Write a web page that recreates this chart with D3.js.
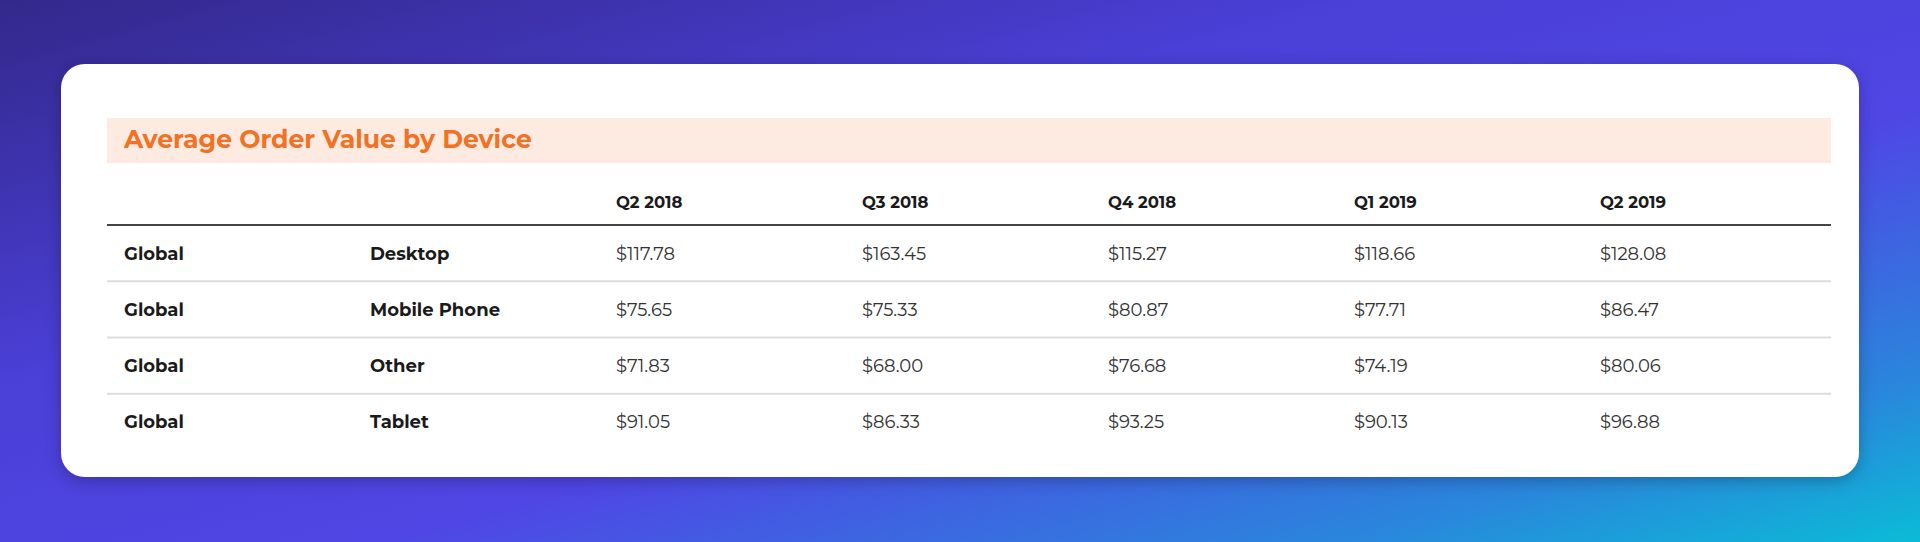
<!DOCTYPE html>
<html><head><meta charset="utf-8">
<script src="https://cdn.jsdelivr.net/npm/d3@7"></script>
<style>html,body{margin:0;padding:0;overflow:hidden;}</style>
</head><body>
<svg id="c" width="1920" height="542"></svg>
<script>
const title = "Average Order Value by Device";
const quarters = ["Q2 2018","Q3 2018","Q4 2018","Q1 2019","Q2 2019"];
const regions = ["Global","Global","Global","Global"];
const devices = ["Desktop","Mobile Phone","Other","Tablet"];
const desktop = [117.78,163.45,115.27,118.66,128.08];
const mobile = [75.65,75.33,80.87,77.71,86.47];
const other = [71.83,68.00,76.68,74.19,80.06];
const tablet = [91.05,86.33,93.25,90.13,96.88];
const values = [desktop, mobile, other, tablet];

const svg = d3.select("#c");
const defs = svg.append("defs");
const g = defs.append("linearGradient").attr("id","bg").attr("x1","0").attr("y1","0").attr("x2","1").attr("y2","1");
[["0%","#33288a"],["35%","#4a3fd6"],["60%","#4f46e5"],["85%","#2a86dc"],["100%","#0bbbd6"]].forEach(s=>g.append("stop").attr("offset",s[0]).attr("stop-color",s[1]));
const f = defs.append("filter").attr("id","sh").attr("x","-5%").attr("y","-10%").attr("width","110%").attr("height","130%");
f.append("feDropShadow").attr("dx",0).attr("dy",4).attr("stdDeviation",8).attr("flood-color","#000").attr("flood-opacity",0.25);
svg.append("rect").attr("width",1920).attr("height",542).attr("fill","url(#bg)");
svg.append("rect").attr("x",61).attr("y",64).attr("width",1798).attr("height",413).attr("rx",24).attr("fill","#fff").attr("filter","url(#sh)");

const L = 107, R = 1831;
const font = "Montserrat, 'Open Sans', Lato, sans-serif";
svg.append("rect").attr("x",L).attr("y",118).attr("width",R-L).attr("height",45).attr("fill","#fdebe1");
const t = svg.append("text").attr("x",124).attr("y",148).attr("fill","#f27124").attr("font-family",font).attr("font-weight",700).attr("font-size",23).text(title);
const tw = t.node().getComputedTextLength(); t.attr("font-size",23*408/tw);

const cols = ["region","device",...quarters];
const x = d3.scalePoint().domain(d3.range(cols.length)).range([124,1600]);
const y = d3.scaleBand().domain(d3.range(devices.length)).range([225,450]);

svg.selectAll(".hd").data(quarters).join("text").attr("x",(d,i)=>x(i+2)).attr("y",208)
  .attr("font-family",font).attr("font-weight",700).attr("font-size",16.5).attr("fill","#1a1a1a").text(d=>d);
svg.append("line").attr("x1",L).attr("x2",R).attr("y1",225).attr("y2",225).attr("stroke","#444").attr("stroke-width",2);

const rows = svg.selectAll(".row").data(devices).join("g").attr("transform",(d,i)=>`translate(0,${y(i)+y.bandwidth()/2})`);
rows.append("text").attr("x",x(0)).attr("dy","0.36em").attr("font-family",font).attr("font-weight",700).attr("font-size",18).attr("fill","#1a1a1a").text((d,i)=>regions[i]);
rows.append("text").attr("x",x(1)).attr("dy","0.36em").attr("font-family",font).attr("font-weight",700).attr("font-size",18).attr("fill","#1a1a1a").text(d=>d);
rows.each(function(d,i){
  d3.select(this).selectAll(".v").data(values[i]).join("text").attr("x",(v,j)=>x(j+2)).attr("dy","0.36em")
    .attr("font-family",font).attr("font-size",18).attr("fill","#333").text(v=>"$"+v.toFixed(2));
});
svg.selectAll(".sep").data(d3.range(1,devices.length)).join("line").attr("x1",L).attr("x2",R)
  .attr("y1",i=>y(i)).attr("y2",i=>y(i)).attr("stroke","#dddddd").attr("stroke-width",2);
</script>
</body></html>
